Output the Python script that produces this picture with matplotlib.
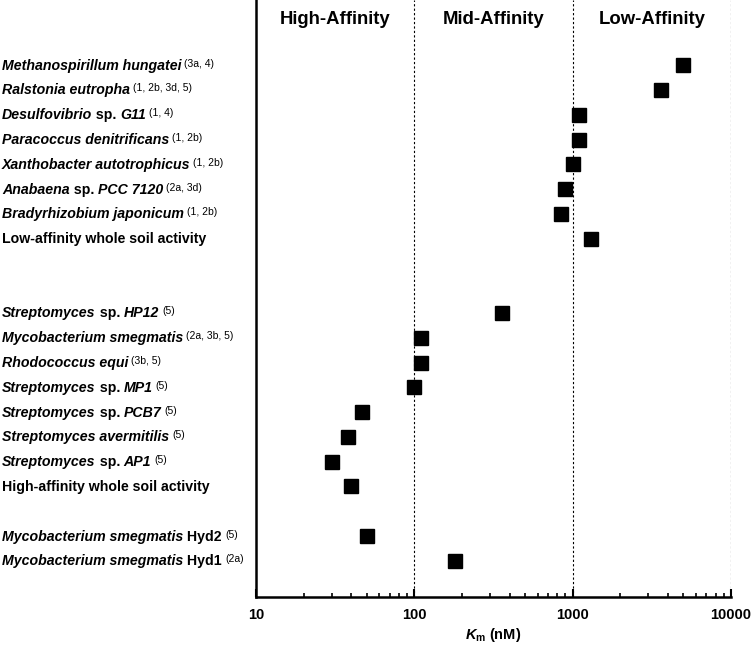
import matplotlib
matplotlib.use("Agg")
import matplotlib.pyplot as plt
import matplotlib.transforms as mtransforms

plt.rcParams["font.family"] = "Liberation Sans"
plt.rcParams["font.weight"] = "bold"
plt.rcParams["mathtext.fontset"] = "custom"
plt.rcParams["mathtext.rm"] = "Liberation Sans:bold"
plt.rcParams["mathtext.it"] = "Liberation Sans:bold:italic"

# organism labels as pieces: i = bold italic, r = bold upright, s = superscript
labels = [
    [("Methanospirillum hungatei", "i"), ("(3a, 4)", "s")],
    [("Ralstonia eutropha", "i"), ("(1, 2b, 3d, 5)", "s")],
    [("Desulfovibrio", "i"), (" sp. ", "r"), ("G11", "i"), ("(1, 4)", "s")],
    [("Paracoccus denitrificans", "i"), ("(1, 2b)", "s")],
    [("Xanthobacter autotrophicus", "i"), ("(1, 2b)", "s")],
    [("Anabaena", "i"), (" sp. ", "r"), ("PCC 7120", "i"), ("(2a, 3d)", "s")],
    [("Bradyrhizobium japonicum", "i"), ("(1, 2b)", "s")],
    [("Low-affinity whole soil activity", "r")],
    [("Streptomyces", "i"), (" sp. ", "r"), ("HP12", "i"), ("(5)", "s")],
    [("Mycobacterium smegmatis", "i"), ("(2a, 3b, 5)", "s")],
    [("Rhodococcus equi", "i"), ("(3b, 5)", "s")],
    [("Streptomyces", "i"), (" sp. ", "r"), ("MP1", "i"), ("(5)", "s")],
    [("Streptomyces", "i"), (" sp. ", "r"), ("PCB7", "i"), ("(5)", "s")],
    [("Streptomyces avermitilis", "i"), ("(5)", "s")],
    [("Streptomyces", "i"), (" sp. ", "r"), ("AP1", "i"), ("(5)", "s")],
    [("High-affinity whole soil activity", "r")],
    [("Mycobacterium smegmatis", "i"), (" Hyd2", "r"), ("(5)", "s")],
    [("Mycobacterium smegmatis", "i"), (" Hyd1", "r"), ("(2a)", "s")],
]
km_values = [5000, 3600, 1100, 1100, 1000, 900, 840, 1300,
             360, 110, 110, 100, 47, 38, 30, 40,
             50, 180]
rows = [0, 1, 2, 3, 4, 5, 6, 7,
        10, 11, 12, 13, 14, 15, 16, 17,
        19, 20]

region_names = ["High-Affinity", "Mid-Affinity", "Low-Affinity"]
region_centers = [31.6, 316, 3160]
boundaries = [100, 1000, 10000]

W, H = 756, 649
fig = plt.figure(figsize=(W / 100, H / 100), dpi=100)
ax = fig.add_axes([256 / W, 1 - 597 / H, (731 - 256) / W, 597 / H])

ax.plot(km_values, rows, "s", color="black", markersize=10, zorder=3)

ax.set_xscale("log")
ax.set_xlim(10, 10000)
ax.set_ylim(21.46, -2.63)

for b in boundaries:
    ax.axvline(b, color="black", linestyle=(0, (2, 2)), linewidth=0.8, zorder=1)

for name, c in zip(region_names, region_centers):
    ax.text(c, -1.85, name, ha="center", va="center", fontsize=13.3, fontweight="bold")

# labels drawn piece by piece so italic / upright / superscript can mix
renderer = fig.canvas.get_renderer()
trans = mtransforms.blended_transform_factory(fig.transFigure, ax.transData)
styles = {
    "i": dict(fontsize=10.2, fontweight="bold", fontstyle="italic"),
    "r": dict(fontsize=10.2, fontweight="bold", fontstyle="normal"),
    "s": dict(fontsize=7.5, fontweight="normal", fontstyle="normal"),
}
main_off = mtransforms.offset_copy(trans, fig=fig, x=0, y=-4.5, units="dots")
sup_off = mtransforms.offset_copy(trans, fig=fig, x=0, y=-1.5, units="dots")
for pieces, r in zip(labels, rows):
    x_px = 2.0
    for txt, st in pieces:
        if st == "s":
            x_px += 3
            t = ax.text(x_px / W, r, txt, transform=sup_off, ha="left",
                        va="baseline", **styles[st])
        else:
            t = ax.text(x_px / W, r, txt, transform=main_off, ha="left",
                        va="baseline", **styles[st])
        x_px = t.get_window_extent(renderer=renderer).x1

ax.set_yticks([])
ax.spines["top"].set_visible(False)
ax.spines["right"].set_visible(False)
ax.spines["left"].set_linewidth(1.8)
ax.spines["bottom"].set_linewidth(1.8)

ax.set_xticks([10, 100, 1000, 10000])
ax.set_xticklabels(["10", "100", "1000", "10000"])
ax.tick_params(axis="x", which="major", direction="in", length=6, width=1.5,
               labelsize=10.5, pad=8)
ax.tick_params(axis="x", which="minor", direction="in", length=3, width=1.2)
for t in ax.get_xticklabels():
    t.set_fontweight("bold")

ax.set_xlabel(r"$\mathit{K}_{\mathrm{m}}$ (nM)", fontsize=10.5, fontweight="bold", labelpad=3)

fig.savefig("out.png", dpi=100)
